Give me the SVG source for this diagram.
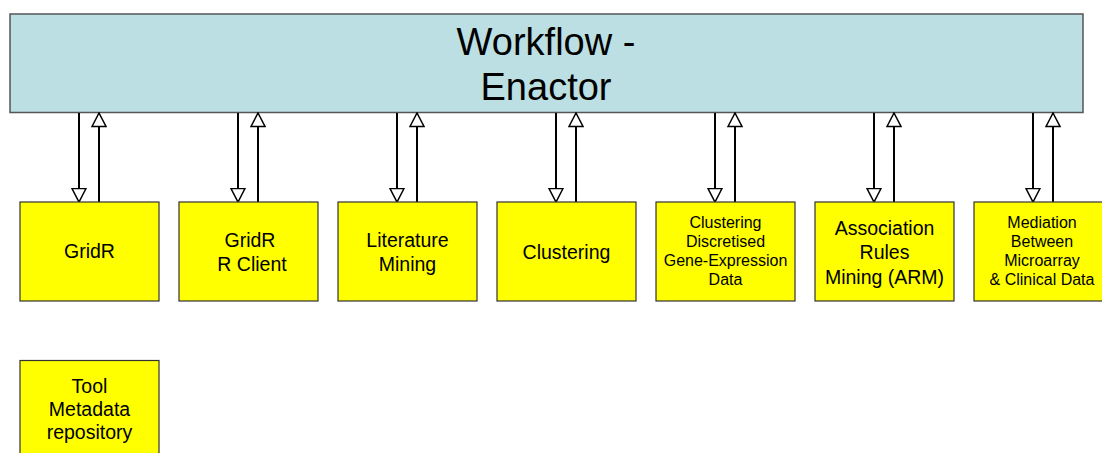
<svg xmlns="http://www.w3.org/2000/svg" width="1102" height="453" viewBox="0 0 1102 453">
  <style>
    .enactor { fill: #bbdfe2; stroke: #555555; stroke-width: 1.5; }
    .tool { fill: #ffff00; stroke: #333333; stroke-width: 1.2; }
    .title { font-family: "Liberation Sans", Arial, sans-serif; font-size: 38px; fill: #000; text-anchor: middle; }
    .lbl { font-family: "Liberation Sans", Arial, sans-serif; font-size: 19.5px; fill: #000; text-anchor: middle; }
    .sm { font-family: "Liberation Sans", Arial, sans-serif; font-size: 16px; fill: #000; text-anchor: middle; }
    .link { stroke: #000; stroke-width: 2; fill: none; marker-end: url(#openHead); }
  </style>
  <defs>
    <marker id="openHead" markerUnits="userSpaceOnUse" viewBox="-1 -1 16 16" refX="13.5" refY="7" markerWidth="16" markerHeight="16" orient="auto">
      <path d="M0,0 L13.5,7 L0,14 Z" fill="#ffffff" stroke="#000" stroke-width="1.5" stroke-linejoin="miter"/>
    </marker>
  </defs>

  <g id="enactor">
    <rect class="enactor" x="10" y="14" width="1073" height="98.5"/>
    <text class="title" x="546" y="55">Workflow -</text>
    <text class="title" x="546" y="100">Enactor</text>
  </g>

  <!-- request/response pairs between the enactor and each tool -->
  <g id="connectors">
    <line class="link" x1="79" y1="113" x2="79" y2="202"/>
    <line class="link" x1="99" y1="202" x2="99" y2="113"/>
    <line class="link" x1="238" y1="113" x2="238" y2="202"/>
    <line class="link" x1="258" y1="202" x2="258" y2="113"/>
    <line class="link" x1="397" y1="113" x2="397" y2="202"/>
    <line class="link" x1="417" y1="202" x2="417" y2="113"/>
    <line class="link" x1="556" y1="113" x2="556" y2="202"/>
    <line class="link" x1="576" y1="202" x2="576" y2="113"/>
    <line class="link" x1="715" y1="113" x2="715" y2="202"/>
    <line class="link" x1="735" y1="202" x2="735" y2="113"/>
    <line class="link" x1="874" y1="113" x2="874" y2="202"/>
    <line class="link" x1="894" y1="202" x2="894" y2="113"/>
    <line class="link" x1="1033" y1="113" x2="1033" y2="202"/>
    <line class="link" x1="1053" y1="202" x2="1053" y2="113"/>
  </g>

  <g id="gridr">
    <rect class="tool" x="20" y="202" width="139" height="99"/>
    <text class="lbl" x="89.5" y="258">GridR</text>
  </g>
  <g id="gridr-client">
    <rect class="tool" x="179" y="202" width="139" height="99"/>
    <text class="lbl" x="250" y="247">GridR</text>
    <text class="lbl" x="252" y="271">R Client</text>
  </g>
  <g id="literature-mining">
    <rect class="tool" x="338" y="202" width="139" height="99"/>
    <text class="lbl" x="407.5" y="247">Literature</text>
    <text class="lbl" x="407.5" y="271">Mining</text>
  </g>
  <g id="clustering">
    <rect class="tool" x="497" y="202" width="139" height="99"/>
    <text class="lbl" x="566.5" y="259">Clustering</text>
  </g>
  <g id="clustering-discretised">
    <rect class="tool" x="656" y="202" width="139" height="99"/>
    <text class="sm" x="725.5" y="228">Clustering</text>
    <text class="sm" x="725.5" y="247">Discretised</text>
    <text class="sm" x="725.5" y="266">Gene-Expression</text>
    <text class="sm" x="725.5" y="285">Data</text>
  </g>
  <g id="arm">
    <rect class="tool" x="815" y="202" width="139" height="99"/>
    <text class="lbl" x="884.5" y="235">Association</text>
    <text class="lbl" x="884.5" y="259">Rules</text>
    <text class="lbl" x="884.5" y="284">Mining (ARM)</text>
  </g>
  <g id="mediation">
    <rect class="tool" x="974" y="202" width="139" height="99"/>
    <text class="sm" x="1042" y="228">Mediation</text>
    <text class="sm" x="1042" y="247">Between</text>
    <text class="sm" x="1042" y="266">Microarray</text>
    <text class="sm" x="1042" y="285">&amp; Clinical Data</text>
  </g>
  <g id="tool-metadata">
    <rect class="tool" x="20" y="360.5" width="139" height="99"/>
    <text class="lbl" x="89.5" y="393">Tool</text>
    <text class="lbl" x="89.5" y="416">Metadata</text>
    <text class="lbl" x="89.5" y="439">repository</text>
  </g>
</svg>
